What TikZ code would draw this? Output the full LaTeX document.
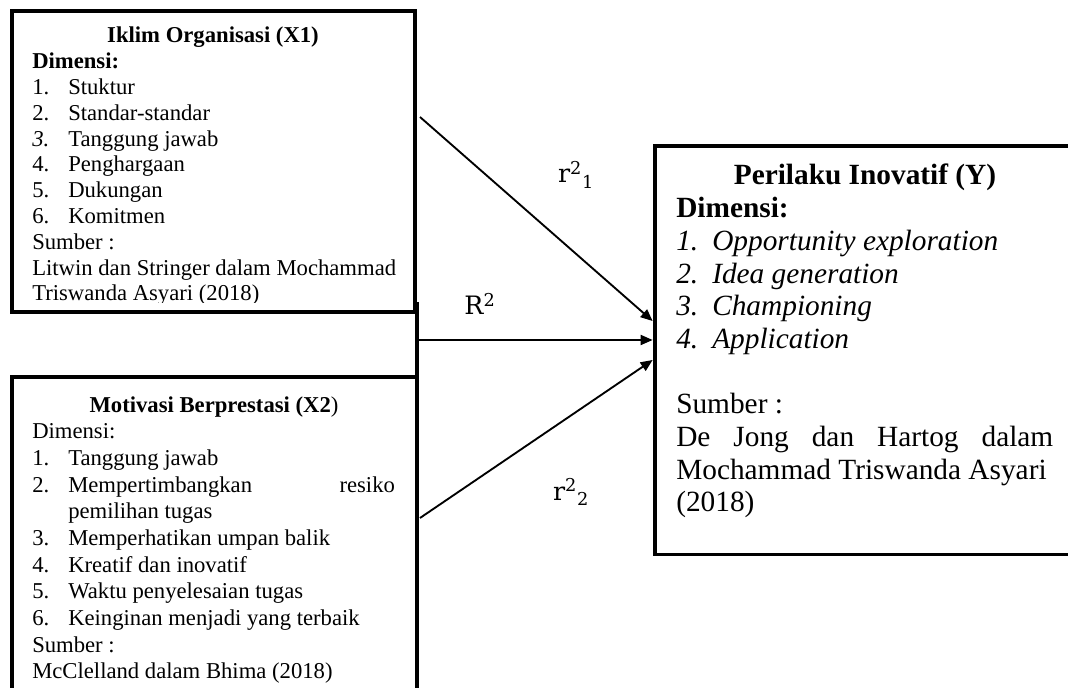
\documentclass[tikz,border=0pt]{standalone}
\usepackage{fontspec}
\setmainfont{Liberation Serif}
\newfontfamily\labelfont{DejaVu Serif}
\usetikzlibrary{arrows.meta}
\newcommand{\numitem}[2]{\makebox[27pt][l]{#1}#2}

\begin{document}
\begin{tikzpicture}[x=0.75pt, y=-0.75pt,
    box/.style={draw, line width=2.9pt, inner sep=0pt},
    ttl/.style={inner sep=0pt, anchor=base},
    body/.style={inner sep=0pt, anchor=base west},
    arr/.style={line width=1.4pt, -{Triangle[length=9pt, width=7.5pt]}},
    lbl/.style={font=\labelfont\fontsize{19}{22}\selectfont, inner sep=0pt, anchor=base}]

    \useasboundingbox (0,0) rectangle (1068,688);
    \clip (0,0) rectangle (1068,688);

    % Boxes
    \node[box, minimum width=302.25pt, minimum height=225.75pt] (x1) at (213.5,161.5) {};
    \node[box, minimum width=303.75pt, minimum height=242pt] (x2) at (214.5,538.75) {};
    \node[box, minimum width=316pt, minimum height=306.4pt] (y) at (865.25,350.25) {};

    % Iklim Organisasi (X1)
    \begin{scope}
        \clip (14,14) rectangle (413,302);
        \node[ttl, font=\fontsize{17}{19.35}\selectfont\bfseries] (x1t) at (213,43) {Iklim Organisasi (X1)};
        \node[body, font=\fontsize{17}{19.35}\selectfont] (x1b) at (32,68.8) {\parbox[t]{300pt}{\raggedright
            \textbf{Dimensi:}\\
            \numitem{1.}{Stuktur}\\
            \numitem{2.}{Standar-standar}\\
            \numitem{\textit{3.}}{Tanggung jawab}\\
            \numitem{4.}{Penghargaan}\\
            \numitem{5.}{Dukungan}\\
            \numitem{6.}{Komitmen}\\
            Sumber :\\
            Litwin dan Stringer dalam Mochammad\\
            Triswanda Asyari (2018)}};
    \end{scope}

    % Motivasi Berprestasi (X2)
    \begin{scope}
        \clip (14,380) rectangle (415,685);
        \node[ttl, font=\fontsize{17}{20}\selectfont] (x2t) at (214,412) {\textbf{Motivasi Berprestasi (X2})};
        \node[body, font=\fontsize{17}{20}\selectfont] (x2b) at (32,438.7) {\parbox[t]{330pt}{\raggedright
            Dimensi:\\
            \numitem{1.}{Tanggung jawab}\\
            \numitem{2.}{\makebox[245pt][s]{Mempertimbangkan resiko}}\\
            \hspace*{27pt}pemilihan tugas\\
            \numitem{3.}{Memperhatikan umpan balik}\\
            \numitem{4.}{Kreatif dan inovatif}\\
            \numitem{5.}{Waktu penyelesaian tugas}\\
            \numitem{6.}{Keinginan menjadi yang terbaik}\\
            Sumber :\\
            McClelland dalam Bhima (2018)}};
    \end{scope}

    % Perilaku Inovatif (Y)
    \node[ttl, font=\fontsize{22}{24.5}\selectfont\bfseries] (yt) at (865,185) {Perilaku Inovatif (Y)};
    \node[body, font=\fontsize{22}{24.5}\selectfont] (yb) at (676,218) {\parbox[t]{300pt}{\raggedright
        \textbf{Dimensi:}\\
        \textit{\numitem{1.}{Opportunity exploration}}\\
        \textit{\numitem{2.}{Idea generation}}\\
        \textit{\numitem{3.}{Championing}}\\
        \textit{\numitem{4.}{Application}}\\
        \mbox{}\\
        Sumber :\\
        \makebox[282.75pt][s]{De Jong dan Hartog dalam}\\
        Mochammad Triswanda Asyari\\
        (2018)}};

    % Connectors
    \coordinate (r1s) at (420,117);
    \coordinate (r2s) at (420,518);
    \coordinate (jtop) at (417,302);
    \coordinate (jmid) at (417,340);

    \draw[line width=2.9pt] (jtop) -- (jtop |- x2.north);
    \draw[arr] (r1s) -- ([yshift=21.9pt]y.west);
    \draw[arr] (jmid) -- ([yshift=7.7pt]y.west);
    \draw[arr] (r2s) -- ([yshift=-7.3pt]y.west);

    % Labels
    \node[lbl] (r1) at (576,183) {r\textsuperscript{2}\textsubscript{1}};
    \node[lbl] (rr) at (480,315) {R\textsuperscript{2}};
    \node[lbl] (r2) at (571,500) {r\textsuperscript{2}\textsubscript{2}};

\end{tikzpicture}
\end{document}
